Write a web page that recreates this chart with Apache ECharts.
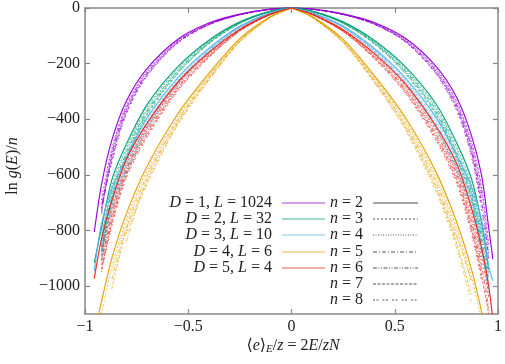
<!DOCTYPE html>
<html>
<head>
<meta charset="utf-8">
<script src="https://cdn.jsdelivr.net/npm/echarts@6/dist/echarts.min.js"></script>
<style>
html, body { margin: 0; background: #fff; }
#chart { width: 505px; height: 364px; }
</style>
</head>
<body>
<div id="chart"></div>
<script>
// energy grid (x) shared by every curve
const eGrid = [-0.955, -0.92, -0.87, -0.8, -0.7, -0.55, -0.4, -0.25, -0.1, 0, 0.1, 0.25, 0.4, 0.55, 0.7, 0.8, 0.87, 0.92, 0.955, 0.975]

// ln g(E)/n, one row per n = 2..8
const lnG_D1 = [
  [-805, -635, -475, -335, -218, -112, -54, -22, -4, 0, -4, -21, -52, -108, -210, -322, -455, -600, -790, -903],
  [null, -690, -505, -350, -226, -116, -56, -23, -4, 0, -4, -22, -54, -112, -218, -336, -478, -640, -850, null],
  [null, -715, -515, -356, -230, -118, -57, -23, -4, 0, -4, -22, -55, -114, -222, -342, -488, -655, -880, null],
  [null, -730, -525, -362, -234, -120, -58, -24, -4, 0, -4, -23, -56, -116, -226, -348, -498, -670, null, null],
  [null, -740, -535, -368, -238, -122, -59, -24, -4, 0, -4, -23, -57, -118, -230, -355, -508, -690, -900, null],
  [null, -720, -545, -375, -242, -124, -60, -24, -4, 0, -4, -23, -58, -120, -234, -362, -518, -705, null, null],
  [null, -705, -555, -382, -246, -126, -61, -25, -5, 0, -5, -24, -59, -122, -238, -370, -530, -720, -905, null],
]
const lnG_D2 = [
  [-915, -790, -618, -490, -348, -211, -116, -50, -11, 0, -11, -50, -116, -210, -345, -485, -610, -770, -940, null],
  [null, -830, -640, -505, -358, -217, -119, -51, -11, 0, -11, -51, -119, -216, -355, -500, -630, -800, -960, null],
  [null, -845, -652, -513, -364, -221, -121, -52, -12, 0, -12, -52, -121, -220, -361, -509, -642, -815, null, null],
  [null, -860, -664, -521, -370, -225, -123, -53, -12, 0, -12, -53, -123, -224, -367, -518, -655, -830, -985, null],
  [null, -875, -676, -530, -376, -229, -125, -54, -12, 0, -12, -54, -125, -228, -374, -527, -668, -848, null, null],
  [null, -890, -688, -538, -382, -233, -127, -55, -12, 0, -12, -55, -127, -232, -380, -536, -680, -865, -1010, null],
  [null, -905, -700, -547, -389, -237, -129, -56, -13, 0, -13, -56, -129, -236, -387, -545, -692, -880, null, null],
]
const lnG_D3 = [
  [-945, -775, -650, -538, -396, -250, -145, -65, -17, 0, -17, -65, -145, -250, -393, -530, -640, -760, -930, -980],
  [null, -810, -672, -553, -406, -256, -148, -66, -17, 0, -17, -66, -148, -256, -403, -545, -660, -790, -965, null],
  [null, -825, -684, -562, -412, -260, -150, -67, -18, 0, -18, -67, -150, -260, -410, -554, -672, -805, null, null],
  [null, -840, -696, -571, -419, -264, -152, -68, -18, 0, -18, -68, -152, -264, -417, -563, -685, -822, -1000, null],
  [null, -855, -708, -580, -425, -268, -154, -69, -18, 0, -18, -69, -154, -268, -423, -572, -698, -840, null, null],
  [null, -870, -720, -589, -432, -272, -156, -70, -18, 0, -18, -70, -156, -272, -430, -582, -710, -858, -1035, null],
  [null, -885, -732, -598, -438, -276, -158, -71, -19, 0, -19, -71, -158, -276, -437, -591, -722, -875, null, null],
]
const lnG_D4 = [
  [-1180, -1055, -900, -740, -570, -380, -235, -110, -30, 0, -31, -113, -242, -392, -590, -770, -935, -1090, -1220, null],
  [null, -1100, -930, -762, -585, -390, -241, -113, -31, 0, -32, -116, -248, -402, -606, -792, -962, -1120, null, null],
  [null, null, -950, -775, -595, -396, -245, -115, -31, 0, -32, -118, -252, -409, -617, -806, -980, null, null, null],
  [null, null, -975, -790, -605, -402, -249, -117, -32, 0, -33, -120, -256, -416, -628, -820, -978, null, null, null],
  [null, null, null, -840, -615, -408, -253, -119, -32, 0, -33, -122, -260, -423, -639, -834, null, null, null, null],
  [null, null, -1010, -800, -625, -414, -257, -121, -33, 0, -34, -124, -264, -430, -650, -848, -1030, null, null, null],
  [null, null, null, -812, -635, -420, -261, -123, -33, 0, -34, -126, -268, -437, -661, -862, -1060, null, null, null],
]
const lnG_D5 = [
  [-973, -830, -693, -545, -415, -266, -160, -76, -21, 0, -22, -78, -163, -272, -425, -560, -715, -860, -1000, -1120],
  [null, -875, -718, -562, -427, -273, -164, -78, -22, 0, -23, -80, -167, -280, -437, -577, -737, -890, -1040, null],
  [null, -895, -732, -572, -434, -278, -167, -79, -22, 0, -23, -81, -170, -285, -445, -588, -750, -908, null, null],
  [null, -910, -745, -582, -442, -283, -170, -80, -22, 0, -23, -82, -173, -290, -453, -598, -764, -925, -1080, null],
  [null, -925, -758, -592, -450, -288, -173, -81, -22, 0, -23, -83, -176, -295, -461, -609, -778, -942, null, null],
  [null, -940, -771, -602, -457, -293, -176, -82, -23, 0, -24, -84, -179, -300, -469, -620, -792, -960, -1100, null],
  [null, -950, -784, -612, -465, -298, -179, -83, -23, 0, -24, -85, -182, -305, -477, -631, -806, -978, null, null],
]

const systems = ['{i|D} = 1, {i|L} = 1024', '{i|D} = 2, {i|L} = 32', '{i|D} = 3, {i|L} = 10', '{i|D} = 4, {i|L} = 6', '{i|D} = 5, {i|L} = 4']
const nValues = [2, 3, 4, 5, 6, 7, 8]
const xTicks = [-1, -0.5, 0, 0.5, 1]
const yTicks = [0, -200, -400, -600, -800, -1000]

const allData = [lnG_D1, lnG_D2, lnG_D3, lnG_D4, lnG_D5]
const colors = ['#9400d3', '#009e73', '#56b4e9', '#e69f00', '#e8261c']
const splitPeak = [false, false, true, true, true]
const dashes = ['solid', [2, 2], [1, 1.5], [4, 2, 1, 2], [4, 1.5, 1, 1.5, 1, 1.5], [3, 1.5], [2, 1.5, 2, 4]]

const serif = "'Liberation Serif', 'DejaVu Serif', serif"
const minus = (v) => String(v).replace('-', '\u2212')

const chart = echarts.init(document.getElementById('chart'), null, { renderer: 'canvas' })

const series = []
// dashed first, solid n = 2 on top; pointed curves are split at e = 0 to keep the peak sharp
for (let k = nValues.length - 1; k >= 0; k--) {
  allData.forEach((rows, d) => {
    const left = []
    const right = []
    eGrid.forEach((e, i) => {
      const v = rows[k][i]
      if (v === null) return
      if (!splitPeak[d] || e <= 0) left.push([e, v])
      if (splitPeak[d] && e >= 0) right.push([e, v])
    })
    const parts = splitPeak[d] ? [left, right] : [left]
    parts.forEach((pts) => {
      series.push({
        type: 'line',
        data: pts,
        showSymbol: false,
        smooth: 0.3,
        silent: true,
        clip: true,
        lineStyle: {
          color: colors[d],
          width: k === 0 ? 1.2 : 1,
          type: dashes[k],
          opacity: k === 0 ? 0.95 : 0.7,
        },
      })
    })
  })
}

const graphic = []
const rowsY = [203, 219, 235, 252, 268, 284, 300]
const richI = { i: { fontStyle: 'italic', fontFamily: serif, fontSize: 16, fill: '#222' } }
systems.forEach((s, d) => {
  graphic.push({
    type: 'text', x: 272, y: rowsY[d],
    style: { text: s, rich: richI, font: '16px ' + serif, fill: '#222', align: 'right', verticalAlign: 'middle' },
  })
  graphic.push({
    type: 'line', shape: { x1: 282, y1: rowsY[d], x2: 325, y2: rowsY[d] },
    style: { stroke: colors[d], lineWidth: 1.5, opacity: 0.5 },
  })
})
nValues.forEach((n, k) => {
  graphic.push({
    type: 'text', x: 363, y: rowsY[k],
    style: { text: '{i|n} = ' + n, rich: richI, font: '16px ' + serif, fill: '#222', align: 'right', verticalAlign: 'middle' },
  })
  graphic.push({
    type: 'line', shape: { x1: 373, y1: rowsY[k], x2: 418, y2: rowsY[k] },
    style: { stroke: k === 0 ? '#888' : '#555', lineWidth: k === 0 ? 1.5 : 1, lineDash: k === 0 ? null : dashes[k] },
  })
})
// axis titles
graphic.push({
  type: 'text', x: 293, y: 346,
  style: {
    text: '\u27e8{i|e}\u27e9{s|E}/{i|z} = 2{i|E}/{i|zN}',
    rich: Object.assign({ s: { fontStyle: 'italic', fontFamily: serif, fontSize: 11, fill: '#222', verticalAlign: 'bottom', padding: [6, 0, 0, 0] } }, richI),
    font: '16px ' + serif, fill: '#222', align: 'center', verticalAlign: 'middle',
  },
})
graphic.push({
  type: 'text', x: 13, y: 166, rotation: Math.PI / 2,
  style: {
    text: 'ln {i|g}(' + '{i|E})/{i|n}',
    rich: richI, font: '16px ' + serif, fill: '#222', align: 'center', verticalAlign: 'middle',
  },
})

const axisCommon = {
  type: 'value',
  axisLine: { show: true, onZero: false, lineStyle: { color: '#888', width: 1.5 } },
  splitLine: { show: false },
}
const tickStyle = { show: true, inside: true, length: 5, lineStyle: { color: '#888', width: 1.2 } }

const option = {
  animation: false,
  backgroundColor: '#fff',
  grid: { left: 85, right: 4, top: 8, bottom: 50 },
  xAxis: [
    Object.assign({}, axisCommon, {
      min: -1, max: 1, interval: 0.5, position: 'bottom',
      axisTick: tickStyle,
      axisLabel: { color: '#222', fontFamily: serif, fontSize: 16, margin: 5, formatter: (v) => xTicks.includes(v) ? minus(v) : '' },
    }),
    Object.assign({}, axisCommon, {
      min: -1, max: 1, interval: 0.5, position: 'top', axisTick: tickStyle, axisLabel: { show: false },
    }),
  ],
  yAxis: [
    Object.assign({}, axisCommon, {
      min: -1100, max: 0, interval: 100, position: 'left',
      axisTick: Object.assign({ customValues: yTicks }, tickStyle),
      axisLabel: { customValues: yTicks, color: '#222', fontFamily: serif, fontSize: 16, margin: 5, formatter: (v) => minus(v) },
    }),
    Object.assign({}, axisCommon, {
      min: -1100, max: 0, interval: 100, position: 'right',
      axisTick: Object.assign({ customValues: yTicks }, tickStyle),
      axisLabel: { show: false },
    }),
  ],
  series,
  graphic,
}
chart.setOption(option)
</script>
</body>
</html>
